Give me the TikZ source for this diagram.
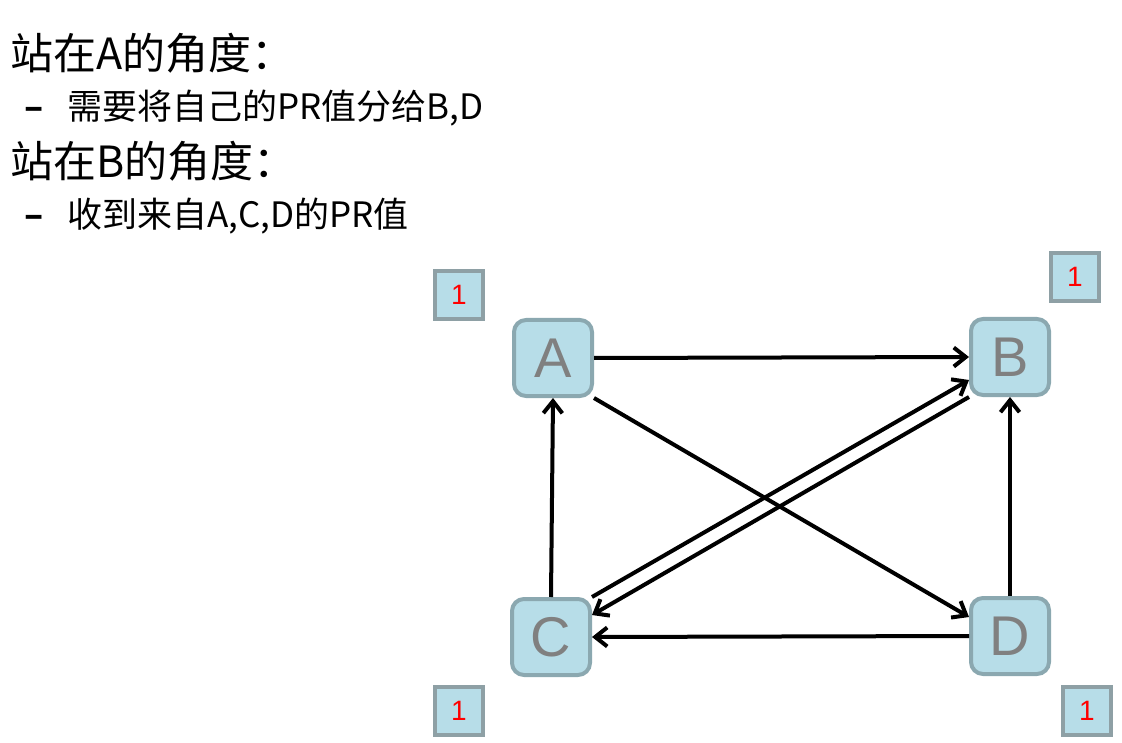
\documentclass[tikz,border=0pt]{standalone}
\usepackage{fontspec}
\setmainfont{Noto Sans CJK SC}
\newfontfamily\lettfont{Liberation Sans}
\usetikzlibrary{positioning,arrows.meta}
\definecolor{nodefill}{RGB}{183,221,232}
\definecolor{nodeline}{RGB}{139,168,176}
\definecolor{boxline}{RGB}{142,160,165}
\definecolor{lettgray}{RGB}{128,128,128}
\newcommand{\pr}[1]{\textcolor{red}{#1}}

\begin{document}
\begin{tikzpicture}[
  x=1pt, y=-1pt,
  pg/.style={draw=nodeline,fill=nodefill,line width=4pt,rounded corners=12pt,
    minimum width=78pt,minimum height=76pt,inner sep=0pt,
    font=\lettfont\fontsize{56}{56}\selectfont,text=lettgray},
  val/.style={draw=boxline,fill=nodefill,line width=4pt,
    minimum width=48pt,minimum height=48pt,inner sep=0pt,
    font=\lettfont\fontsize{28}{28}\selectfont},
  head/.style={anchor=base west,inner sep=0pt,font=\fontsize{43}{43}\selectfont},
  item/.style={anchor=base west,inner sep=0pt,font=\fontsize{35}{35}\selectfont},
  arr/.style={-{Straight Barb[length=12pt,width=19pt]},line width=4pt,black}
    ]
    \useasboundingbox (0,0) rectangle (1122,743);
    % text
    \node[head] (ha) at (10,70) {站在A的角度：};
    \node[item] (ia) at (24,120) {\textbf{–}\hspace{24pt}需要将自己的PR值分给B,D};
    \node[head] (hb) at (10,178) {站在B的角度：};
    \node[item] (ib) at (24,228) {\textbf{–}\hspace{24pt}收到来自A,C,D的PR值};
    % pages
    \node[pg] (A) at (553,358) {A};
    \node[pg] (B) at (1010,357) {B};
    \node[pg] (C) at (551,637) {C};
    \node[pg] (D) at (1010,636) {D};
    % values
    \node[val] (va) at (459,295) {\pr{1}};
    \node[val] (vb) at (1075,277) {\pr{1}};
    \node[val] (vc) at (459,711) {\pr{1}};
    \node[val] (vd) at (1087,711) {\pr{1}};
    % links
    \path (A.east) edge[arr] (B.west)
    (A.south east) edge[arr] ([yshift=19pt]D.west)
    (C.north) edge[arr] (A.south)
    (C.north east) edge[arr] ([yshift=-23pt]B.west)
    (B.south west) edge[arr] ([yshift=22pt]C.east)
    (D.west) edge[arr] (C.east)
    (D.north) edge[arr] (B.south);
    \end{tikzpicture}
\end{document}
